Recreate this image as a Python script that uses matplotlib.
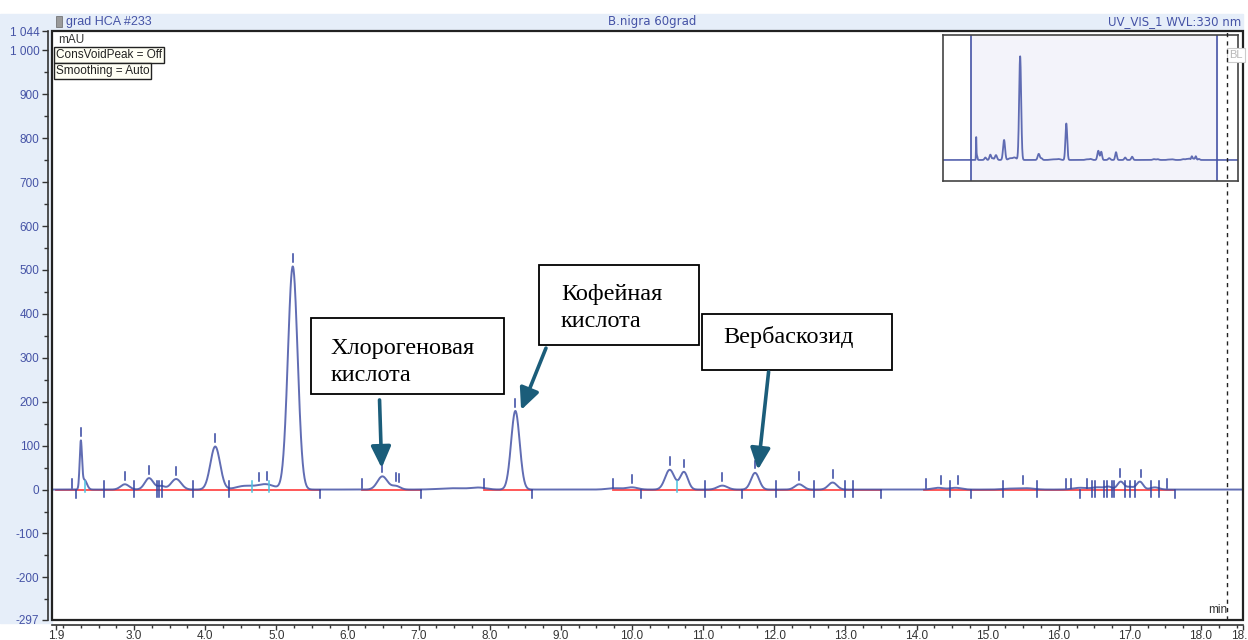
import numpy as np
import matplotlib.pyplot as plt
from matplotlib.patches import Rectangle
from matplotlib.lines import Line2D

# peak table: retention time (min), height (mAU), sigma (min)
peak_rt = [2.25, 2.30, 2.87, 3.21, 3.38, 3.59, 4.14, 4.55, 4.85, 5.23,
           6.49, 6.68, 7.50, 7.85, 8.36, 9.75, 10.00, 10.53, 10.73, 11.27,
           11.73, 12.35, 12.82, 14.30, 14.55, 15.30, 15.55, 16.30, 16.55,
           16.70, 16.87, 17.00, 17.14, 17.35]
peak_h = [104, 22, 12, 26, 8, 24, 98, 8, 12, 508,
          30, 8, 3, 4, 179, 3, 5, 45, 40, 9,
          38, 12, 16, 4, 4, 2, 3, 4, 5,
          6, 18, 6, 18, 5]
peak_w = [0.016, 0.035, 0.06, 0.06, 0.05, 0.07, 0.068, 0.12, 0.12, 0.068,
          0.07, 0.06, 0.2, 0.1, 0.06, 0.1, 0.08, 0.065, 0.055, 0.07,
          0.057, 0.06, 0.06, 0.08, 0.08, 0.1, 0.1, 0.1, 0.08,
          0.05, 0.045, 0.05, 0.045, 0.06]

# apex markers and integration delimiters
apex_rt = [2.25, 2.87, 3.21, 3.59, 4.14, 4.75, 4.87, 5.23, 6.49, 6.68, 6.72, 8.36,
           10.0, 10.53, 10.73, 11.27, 11.73, 12.35, 12.82, 14.35, 14.59, 15.50,
           16.86, 17.15]
delim_up = [2.13, 6.20, 7.92, 9.73, 14.13, 16.10, 16.17, 16.40, 17.52]
delim_down = [2.18, 5.62, 7.04, 8.59, 10.13, 11.55, 13.50, 14.76, 16.30, 17.64]
delim_both = [2.58, 3.00, 3.32, 3.35, 3.39, 3.83, 4.33, 11.03, 12.03, 12.56,
              12.99, 13.11, 14.47, 15.21, 15.69, 16.47, 16.51, 16.63, 16.68,
              16.75, 16.78, 16.93, 17.00, 17.07, 17.30, 17.41]
delim_cyan = [2.31, 4.66, 4.90, 10.63]

# red integration baseline segments
base_segs = [(1.9, 5.62), (6.2, 7.04), (7.92, 8.59), (9.73, 13.5), (14.1, 17.62)]

labels = ["Хлорогеновая\nкислота", "Кофейная\nкислота", "Вербаскозид"]
arrow_tip = [(6.48, 49), (8.44, 181), (11.77, 45)]
arrow_tail = [(6.45, 204), (8.79, 322), (11.92, 268)]

ytick_vals = [-297, -200, -100, 0, 100, 200, 300, 400, 500, 600, 700, 800, 900, 1000, 1044]
xtick_vals = [1.9, 3.0, 4.0, 5.0, 6.0, 7.0, 8.0, 9.0, 10.0, 11.0, 12.0, 13.0, 14.0,
              15.0, 16.0, 17.0, 18.0, 18.59]
xtick_labels = ["1.9", "3.0", "4.0", "5.0", "6.0", "7.0", "8.0", "9.0", "10.0", "11.0",
                "12.0", "13.0", "14.0", "15.0", "16.0", "17.0", "18.0", "18.6"]


def signal(t):
    s = np.zeros_like(t)
    for rt, h, w in zip(peak_rt, peak_h, peak_w):
        s += h * np.exp(-0.5 * ((t - rt) / w) ** 2)
    return s


W, H = 1248, 640
fig = plt.figure(figsize=(W / 100, H / 100), dpi=100)
fig.patch.set_facecolor("white")

def px(x, y):
    return x / W, 1 - y / H

# light blue header band and left margin
band = "#e6eef9"
fig.add_artist(Rectangle(px(0, 31), 1243 / W, 17 / H, transform=fig.transFigure,
                         color=band, zorder=0))
fig.add_artist(Rectangle(px(0, 623), 52 / W, 592 / H, transform=fig.transFigure,
                         color=band, zorder=0))

blue = "#4553a6"
fig.text(*px(66, 22), "grad HCA #233", color=blue, fontsize=9, va="center", family="Liberation Sans")
fig.add_artist(Rectangle(px(56, 27), 6 / W, 11 / H, transform=fig.transFigure,
                         fc="#9a9a9a", ec="#666", lw=0.5))
fig.text(*px(652, 22), "B.nigra 60grad", color=blue, fontsize=8.5, va="center",
         ha="center", family="Liberation Sans Narrow")
fig.text(*px(1241, 22), "UV_VIS_1 WVL:330 nm", color=blue, fontsize=8.5, va="center",
         ha="right", family="Liberation Sans Narrow")

ax = fig.add_axes([52 / W, 20 / H, 1191 / W, 589 / H])
ax.set_xlim(1.845, 18.59)
ax.set_ylim(-297, 1044)
ax.set_facecolor("white")

t = np.linspace(1.845, 18.59, 4000)
y = signal(t)

# integration baselines and delimiters
for a, b in base_segs:
    ax.plot([a, b], [0, 0], color="#ff4a4a", lw=1.3, zorder=2)
ax.plot(t, y, color=blue, lw=1.4, alpha=0.85, zorder=3)
tick_c = "#3344a0"
for rt in apex_rt:
    v = signal(np.array([rt]))[0]
    ax.plot([rt, rt], [v + 10, v + 28], color=tick_c, lw=1.1, zorder=4)
for rt in delim_up:
    ax.plot([rt, rt], [3, 24], color=tick_c, lw=1.1, zorder=4)
for rt in delim_down:
    ax.plot([rt, rt], [0, -20], color=tick_c, lw=1.1, zorder=4)
for rt in delim_both:
    ax.plot([rt, rt], [-18, 20], color=tick_c, lw=1.1, zorder=4)
for rt in delim_cyan:
    ax.plot([rt, rt], [-5, 20], color="#4cc4e0", lw=1.1, zorder=4)

# frame and offset axes
ax.add_patch(Rectangle((0, 0), 1, 1, transform=ax.transAxes, fill=False,
                       ec="#222222", lw=1.6, clip_on=False, zorder=6))
for side in ["top", "right"]:
    ax.spines[side].set_visible(False)
ax.spines["left"].set_position(("outward", 3))
ax.spines["bottom"].set_position(("outward", 3.5))
ax.spines["left"].set_color("#333")
ax.spines["bottom"].set_color("#333")
ax.spines["left"].set_linewidth(1.2)
ax.spines["bottom"].set_linewidth(1.2)

ax.set_yticks(ytick_vals)
ax.set_yticklabels([f"{v:,}".replace(",", " ") for v in ytick_vals],
                   color=blue, fontsize=8.5, family="Liberation Sans")
ax.set_yticks(np.arange(-250, 1044, 50), minor=True)
ax.tick_params(axis="y", which="major", length=4, width=1, color="#333", pad=2)
ax.tick_params(axis="y", which="minor", length=3, width=1, color="#333")

ax.set_xticks(xtick_vals)
ax.set_xticklabels(xtick_labels, color="#333", fontsize=8.5, family="Liberation Sans")
ax.set_xticks(np.arange(2.0, 18.59, 0.25), minor=True)
ax.tick_params(axis="x", which="major", length=3.5, width=1, color="#333", pad=0.5)
ax.tick_params(axis="x", which="minor", length=2.5, width=1, color="#333")

ax.text(*px(58, 40), "mAU", transform=fig.transFigure, fontsize=8.5, color="#333",
        va="center", family="Liberation Sans")
for yy, s in [(55, "ConsVoidPeak = Off"), (71, "Smoothing = Auto")]:
    ax.text(*px(56, yy), s, transform=fig.transFigure, fontsize=8.5, color="#222",
            va="center", family="Liberation Sans",
            bbox=dict(boxstyle="square,pad=0.15", fc="#fffff4", ec="#222", lw=1))

ax.text(*px(1218, 610), "min", transform=fig.transFigure, fontsize=8.5, color="#333",
        ha="center", va="center", family="Liberation Sans", zorder=7)

# annotation boxes with arrows
boxes = [((5.48, 218), (8.20, 391)), ((8.69, 329), (10.94, 511)), ((10.99, 272), (13.66, 400))]
text_pos = [(5.76, 291), (9.0, 414), (11.28, 347)]
arrow_col = "#1b5d7a"
for lab, (p0, p1), tp, tip, tail in zip(labels, boxes, text_pos, arrow_tip, arrow_tail):
    ax.add_patch(Rectangle(p0, p1[0] - p0[0], p1[1] - p0[1], fc="white", ec="black",
                           lw=1.3, zorder=8))
    ax.text(tp[0], tp[1], lab, fontsize=17.5, family="Liberation Serif", va="center",
            ha="left", linespacing=1.35, zorder=9)
    ax.annotate("", xy=tip, xytext=tail, zorder=9,
                arrowprops=dict(arrowstyle="-|>,head_length=1.3,head_width=0.6",
                                color=arrow_col, lw=2.6, shrinkA=0, shrinkB=0))

# overview inset
ins = fig.add_axes([943 / W, (H - 181) / H, 295 / W, 146 / H])
ins.set_xlim(0, 20)
ins.set_ylim(-103, 612)
ins.axvspan(1.9, 18.6, color="#f3f3fa", zorder=0)
ins.axvline(1.9, color=blue, lw=1.2)
ins.axvline(18.6, color=blue, lw=1.2)
ti = np.linspace(0, 20, 2000)
ins.plot(ti, signal(ti), color=blue, lw=1.3, alpha=0.85)
ins.set_xticks([])
ins.set_yticks([])
for sp in ins.spines.values():
    sp.set_color("#444")
    sp.set_linewidth(1.2)

fig.text(*px(1229, 55), "BL", fontsize=8, color="#b8b8b8", va="center",
         family="Liberation Sans",
         bbox=dict(boxstyle="square,pad=0.2", fc="white", ec="#cccccc", lw=0.8))

fig.add_artist(Line2D([18.37, 18.37], [0, 1], transform=ax.get_xaxis_transform(),
                      ls=(0, (3, 3)), color="#222", lw=1, zorder=5))

fig.savefig("out.png", dpi=100)
